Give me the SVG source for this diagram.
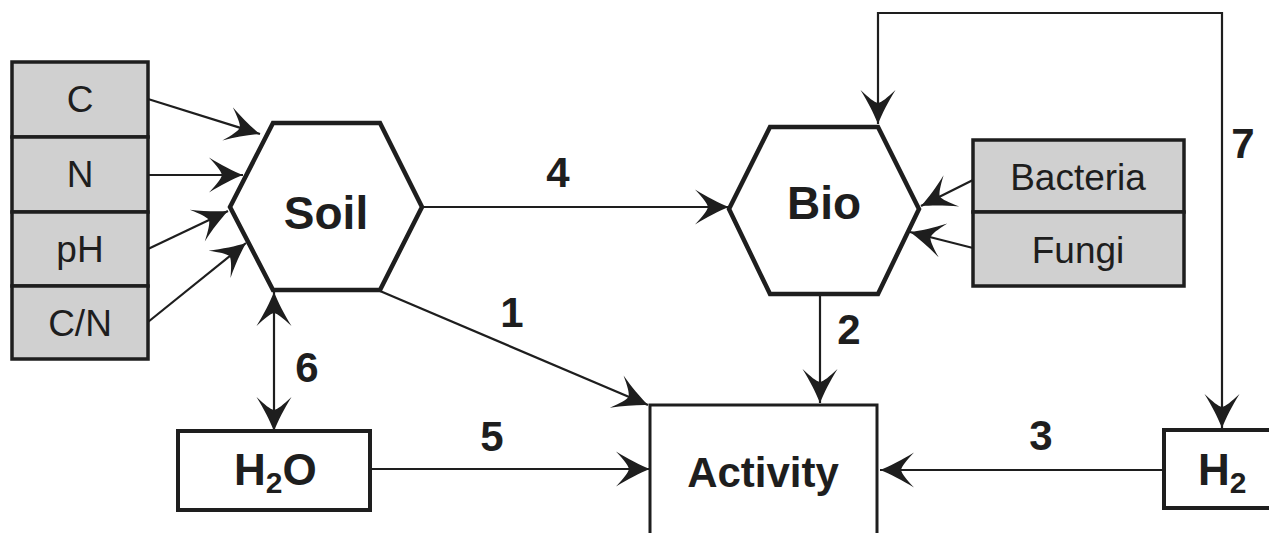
<svg xmlns="http://www.w3.org/2000/svg" width="1269" height="533" viewBox="0 0 1269 533">
<style>
.box{fill:#d0d0d0;stroke:#1e1e1e;stroke-width:3.5}
.wbox{fill:#ffffff;stroke:#1e1e1e;stroke-width:4}
.hex{fill:#ffffff;stroke:#1e1e1e;stroke-width:4.5;stroke-linejoin:miter}
.lbl{font-family:"Liberation Sans",Arial,sans-serif;font-size:37px;fill:#1e1e1e;text-anchor:middle}
.big{font-family:"Liberation Sans",Arial,sans-serif;font-size:44px;font-weight:bold;fill:#1e1e1e}
.num{font-family:"Liberation Sans",Arial,sans-serif;font-size:42px;font-weight:bold;fill:#1e1e1e;text-anchor:middle}
.ln{fill:none;stroke:#1e1e1e;stroke-width:2.2;marker-end:url(#ah)}
</style>
<defs>
<marker id="ah" markerUnits="userSpaceOnUse" viewBox="-36 -18 38 36" refX="0" refY="0" markerWidth="38" markerHeight="36" orient="auto-start-reverse">
<path d="M0,0 C-10,-4 -22,-10 -34,-17.5 C-26,-9 -22,-4 -21,0 C-22,4 -26,9 -34,17.5 C-22,10 -10,4 0,0 Z" fill="#1e1e1e"/>
</marker>
</defs>
<g id="connectors">
<line class="ln" x1="148" y1="99" x2="260" y2="134"/>
<line class="ln" x1="148" y1="175" x2="243" y2="175"/>
<line class="ln" x1="148" y1="249" x2="228" y2="211"/>
<line class="ln" x1="148" y1="322" x2="246" y2="243"/>
<line class="ln" x1="973" y1="180" x2="921" y2="206"/>
<line class="ln" x1="973" y1="248" x2="910" y2="232"/>
<line class="ln" x1="422" y1="207" x2="729" y2="207"/>
<path class="ln" d="M878,124 V13 H1222 V428" style="marker-start:url(#ah)"/>
<line class="ln" x1="380" y1="291" x2="648" y2="405"/>
<line class="ln" x1="820" y1="296" x2="820" y2="403"/>
<line class="ln" x1="1164" y1="470" x2="880" y2="470"/>
<line class="ln" x1="370" y1="469" x2="650" y2="469"/>
<line class="ln" x1="274" y1="292" x2="274" y2="431" style="marker-start:url(#ah)"/>
<text class="num" x="558" y="187">4</text>
<text class="num" x="512" y="327">1</text>
<text class="num" x="849" y="344">2</text>
<text class="num" x="307" y="382">6</text>
<text class="num" x="492" y="451">5</text>
<text class="num" x="1041" y="450">3</text>
<text class="num" x="1243" y="158">7</text>
</g>
<g id="factor-C"><rect class="box" x="12" y="62" width="136" height="75"/><text class="lbl" x="80" y="112">C</text></g>
<g id="factor-N"><rect class="box" x="12" y="137" width="136" height="75"/><text class="lbl" x="80" y="187">N</text></g>
<g id="factor-pH"><rect class="box" x="12" y="212" width="136" height="74"/><text class="lbl" x="80" y="262">pH</text></g>
<g id="factor-CN"><rect class="box" x="12" y="286" width="136" height="73"/><text class="lbl" x="80" y="336">C/N</text></g>
<g id="soil"><polygon class="hex" points="273,123 380,123 422,207 380,290 273,290 230,207"/><text class="big" x="326" y="229" text-anchor="middle" style="font-size:46px">Soil</text></g>
<g id="bio"><polygon class="hex" points="770,127 878,127 919,209 878,294 770,294 729,209"/><text class="big" x="824" y="219" text-anchor="middle" style="font-size:46px">Bio</text></g>
<g id="bacteria"><rect class="box" x="973" y="140" width="211" height="72"/><text class="lbl" x="1078" y="190">Bacteria</text></g>
<g id="fungi"><rect class="box" x="973" y="212" width="211" height="74"/><text class="lbl" x="1078" y="263">Fungi</text></g>
<g id="activity"><rect x="650" y="405" width="227" height="140" fill="#ffffff" stroke="#1e1e1e" stroke-width="3"/><text class="big" x="763" y="487" text-anchor="middle" style="font-size:42px">Activity</text></g>
<g id="h2o"><rect class="wbox" x="178" y="431" width="192" height="79"/><text class="big" x="234" y="485">H<tspan dy="8" style="font-size:30px">2</tspan><tspan dy="-8">O</tspan></text></g>
<g id="h2"><rect class="wbox" x="1164" y="430" width="120" height="78"/><text class="big" x="1198" y="485">H<tspan dy="8" style="font-size:30px">2</tspan></text></g>
</svg>
